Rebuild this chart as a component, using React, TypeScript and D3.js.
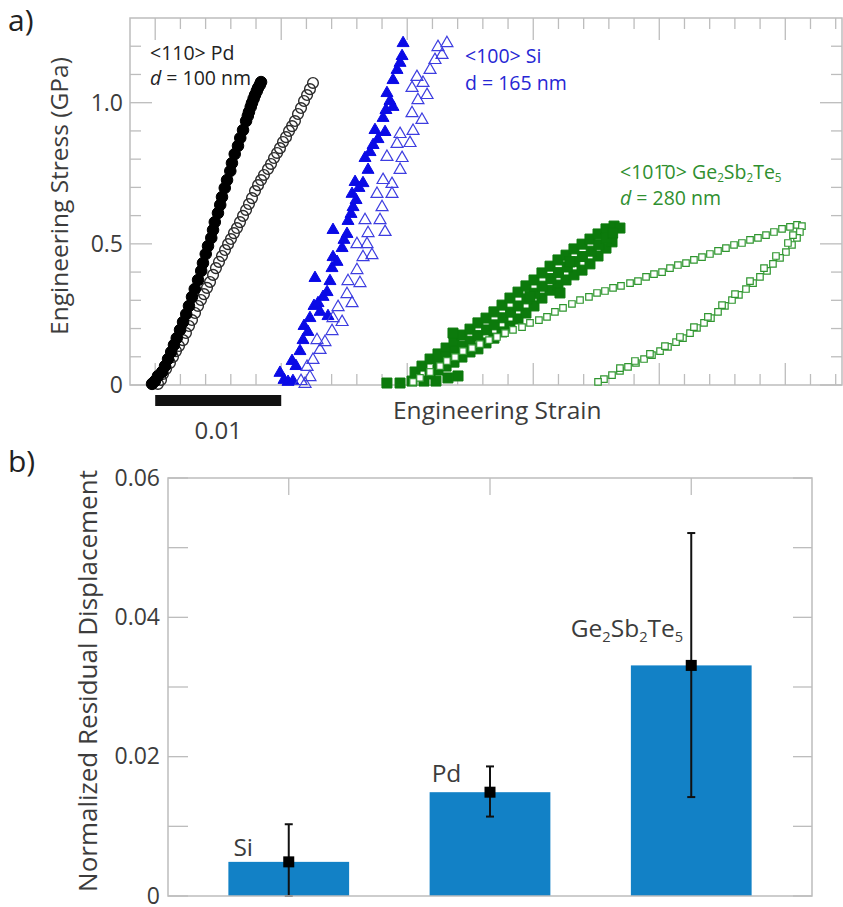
import React from "react";
import * as d3 from "d3";

// ---- panel a: engineering stress (GPa) vs strain, [strain, stress] ----
const pdFilled: [number, number][] = [
  [-0.00025, 0.004], [-0.00002, 0.014], [0.00022, 0.032], [0.00054, 0.046], [0.00078, 0.067],
  [0.00102, 0.092], [0.00127, 0.117], [0.00149, 0.142], [0.00171, 0.166], [0.00197, 0.195],
  [0.00221, 0.223], [0.00246, 0.251], [0.00268, 0.280], [0.00292, 0.312], [0.00314, 0.340],
  [0.0034, 0.372], [0.00365, 0.404], [0.00379, 0.432], [0.00401, 0.464], [0.00419, 0.492],
  [0.00445, 0.521], [0.00459, 0.549], [0.00473, 0.577], [0.00498, 0.609], [0.00516, 0.638],
  [0.0053, 0.666], [0.00552, 0.698], [0.0057, 0.726], [0.00596, 0.758], [0.00609, 0.786],
  [0.00631, 0.818], [0.00657, 0.847], [0.00675, 0.875], [0.00697, 0.903], [0.00721, 0.935],
  [0.00735, 0.953], [0.00744, 0.967], [0.00758, 0.985], [0.00768, 0.999], [0.00781, 1.014],
  [0.00792, 1.027], [0.00806, 1.041], [0.00816, 1.052], [0.0083, 1.063], [0.0084, 1.073],
];

const pdOpen: [number, number][] = [
  [0.00022, 0.004], [0.00046, 0.018], [0.00062, 0.039], [0.00086, 0.057], [0.00117, 0.078],
  [0.00141, 0.099], [0.00165, 0.12], [0.00189, 0.138], [0.00221, 0.159], [0.00244, 0.184],
  [0.00268, 0.209], [0.00292, 0.23], [0.00316, 0.255], [0.0034, 0.28], [0.00363, 0.301],
  [0.00387, 0.322], [0.00411, 0.344], [0.00435, 0.365], [0.00459, 0.39], [0.00482, 0.414],
  [0.00506, 0.436], [0.0053, 0.457], [0.00554, 0.478], [0.00578, 0.499], [0.00601, 0.517],
  [0.00625, 0.538], [0.00649, 0.556], [0.00673, 0.577], [0.00697, 0.599], [0.00721, 0.62],
  [0.00744, 0.641], [0.00768, 0.662], [0.00792, 0.687], [0.00816, 0.708], [0.0084, 0.726],
  [0.00863, 0.744], [0.00895, 0.765], [0.00919, 0.783], [0.00943, 0.804], [0.00967, 0.822],
  [0.0099, 0.839], [0.01014, 0.861], [0.01038, 0.878], [0.01062, 0.9], [0.01086, 0.917],
  [0.01109, 0.935], [0.01133, 0.96], [0.01157, 0.981], [0.01181, 1.006], [0.01205, 1.027],
  [0.01228, 1.048], [0.01252, 1.07],
];

const siFilled: [number, number][] = [
  [0.0099, 0.043], [0.01022, 0.018], [0.01054, 0.011], [0.01093, 0.014], [0.01086, 0.085],
  [0.01117, 0.067], [0.01149, 0.12], [0.01173, 0.159], [0.01181, 0.209], [0.01212, 0.188],
  [0.01228, 0.237], [0.01268, 0.379], [0.0126, 0.28], [0.01292, 0.29], [0.01308, 0.259],
  [0.01332, 0.312], [0.01364, 0.329], [0.01371, 0.244], [0.01387, 0.368], [0.01403, 0.414],
  [0.01411, 0.453], [0.01411, 0.549], [0.01443, 0.436], [0.01483, 0.485], [0.01498, 0.514],
  [0.01522, 0.535], [0.0153, 0.581], [0.01554, 0.606], [0.0157, 0.63], [0.01562, 0.677],
  [0.01594, 0.655], [0.01586, 0.719], [0.01617, 0.698], [0.01649, 0.715], [0.01665, 0.804],
  [0.01689, 0.762], [0.01705, 0.825], [0.01729, 0.85], [0.01744, 0.903], [0.01768, 0.871],
  [0.01824, 0.896], [0.01808, 0.946], [0.01831, 0.974], [0.01839, 1.034], [0.01863, 1.006],
  [0.01887, 0.985], [0.01887, 1.08], [0.01919, 1.116], [0.01943, 1.141], [0.01959, 1.165],
  [0.01967, 1.211],
];

const siOpen: [number, number][] = [
  [0.01157, 0.014], [0.01189, 0.004], [0.01205, 0.064], [0.01228, 0.028], [0.01252, 0.089],
  [0.01284, 0.159], [0.01308, 0.124], [0.01347, 0.152], [0.01403, 0.191], [0.01411, 0.237],
  [0.01451, 0.276], [0.01483, 0.223], [0.01522, 0.322], [0.0153, 0.368], [0.01562, 0.29],
  [0.01601, 0.407], [0.01625, 0.361], [0.01649, 0.453], [0.01601, 0.499], [0.01681, 0.499],
  [0.01689, 0.538], [0.01665, 0.584], [0.0172, 0.46], [0.01784, 0.584], [0.018, 0.63],
  [0.0176, 0.677], [0.01824, 0.542], [0.01879, 0.677], [0.01808, 0.726], [0.01879, 0.712],
  [0.01943, 0.762], [0.01839, 0.808], [0.01959, 0.804], [0.01919, 0.854], [0.02022, 0.857],
  [0.02046, 0.9], [0.01943, 0.889], [0.02117, 0.939], [0.02038, 0.963], [0.02085, 1.009],
  [0.02157, 1.027], [0.02038, 1.052], [0.02125, 1.07], [0.02077, 1.091], [0.02181, 1.116],
  [0.0222, 1.151], [0.02276, 1.169], [0.02315, 1.211], [0.02244, 1.197],
];

const gstFilled: [number, number][] = [
  [0.01839, 0.007], [0.01943, 0.007], [0.02038, 0.014], [0.02133, 0.014], [0.02228, 0.014],
  [0.02323, 0.025], [0.02403, 0.032],
  [0.02062, 0.046], [0.02117, 0.067], [0.02181, 0.092], [0.02244, 0.11], [0.02308, 0.131],
  [0.02371, 0.152], [0.02434, 0.177], [0.02498, 0.198], [0.02561, 0.22], [0.02625, 0.237],
  [0.02688, 0.259], [0.02752, 0.283], [0.02815, 0.308], [0.02879, 0.329], [0.02942, 0.351],
  [0.03006, 0.372], [0.03069, 0.397], [0.03133, 0.421], [0.03196, 0.443], [0.0326, 0.46],
  [0.03323, 0.482], [0.03387, 0.499], [0.0345, 0.517], [0.03514, 0.535], [0.03577, 0.553],
  [0.03641, 0.563], [0.03688, 0.556],
  [0.02181, 0.039], [0.02244, 0.053], [0.02308, 0.067], [0.02371, 0.081], [0.02434, 0.099],
  [0.02498, 0.117], [0.02561, 0.128], [0.02625, 0.149], [0.02688, 0.166], [0.02752, 0.188],
  [0.02815, 0.209], [0.02879, 0.234], [0.02942, 0.255], [0.03006, 0.28], [0.03069, 0.308],
  [0.03133, 0.336], [0.03196, 0.354], [0.0326, 0.372], [0.03323, 0.39], [0.03387, 0.407],
  [0.0345, 0.429], [0.03514, 0.457], [0.03577, 0.485], [0.03625, 0.507],
  [0.0225, 0.085], [0.0231, 0.1], [0.0238, 0.12], [0.0244, 0.138], [0.025, 0.155],
  [0.0256, 0.175], [0.0263, 0.195], [0.0269, 0.213], [0.0276, 0.238], [0.0282, 0.258],
  [0.0288, 0.28], [0.0295, 0.305], [0.0301, 0.325], [0.0307, 0.35], [0.0314, 0.377],
  [0.032, 0.398], [0.0327, 0.418], [0.0333, 0.437], [0.0339, 0.455], [0.0346, 0.474],
  [0.0352, 0.497], [0.0358, 0.52], [0.0363, 0.538],
  [0.02363, 0.184], [0.03212, 0.326], [0.02974, 0.315], [0.03291, 0.436],
];

const gstOpenLoad: [number, number][] = [
  [0.02046, 0.011], [0.02101, 0.025], [0.02181, 0.046], [0.0226, 0.067], [0.02315, 0.085],
  [0.02379, 0.099], [0.02442, 0.12], [0.02514, 0.131], [0.02577, 0.145], [0.02649, 0.159],
  [0.02712, 0.17], [0.02776, 0.184], [0.02839, 0.195], [0.02911, 0.205], [0.02974, 0.22],
  [0.03045, 0.23], [0.03109, 0.241], [0.03172, 0.259], [0.03236, 0.273], [0.03307, 0.287],
  [0.03371, 0.301], [0.03442, 0.312], [0.03506, 0.326], [0.03569, 0.333], [0.03633, 0.344],
  [0.03696, 0.351], [0.03768, 0.361], [0.03831, 0.368], [0.03895, 0.383], [0.03958, 0.393],
  [0.04022, 0.4], [0.04085, 0.414], [0.04148, 0.425], [0.04212, 0.432], [0.04275, 0.443],
  [0.04339, 0.453], [0.04402, 0.464], [0.04466, 0.475], [0.04529, 0.485], [0.04593, 0.496],
  [0.04656, 0.503], [0.0472, 0.514], [0.04783, 0.521], [0.04847, 0.531], [0.0491, 0.542],
  [0.04974, 0.553], [0.05037, 0.56], [0.05093, 0.567], [0.05132, 0.563],
];

const gstOpenUnload: [number, number][] = [
  [0.05116, 0.542], [0.05093, 0.521], [0.05053, 0.496], [0.05005, 0.471], [0.04958, 0.45],
  [0.04902, 0.429], [0.04855, 0.404], [0.04799, 0.383], [0.04744, 0.361], [0.04688, 0.34],
  [0.04632, 0.319], [0.04577, 0.301], [0.04521, 0.28], [0.04466, 0.259], [0.0441, 0.237],
  [0.04355, 0.22], [0.04299, 0.202], [0.04244, 0.184], [0.04188, 0.166], [0.04133, 0.152],
  [0.04069, 0.135], [0.04006, 0.12], [0.03942, 0.106], [0.03879, 0.092], [0.03815, 0.078],
  [0.03752, 0.064], [0.03688, 0.05], [0.03625, 0.035], [0.03561, 0.021], [0.03514, 0.011],
  [0.05061, 0.531], [0.05021, 0.503], [0.04926, 0.457], [0.04831, 0.414], [0.0472, 0.368],
  [0.04601, 0.322], [0.04498, 0.283], [0.04386, 0.241], [0.04275, 0.205], [0.04164, 0.17],
  [0.04045, 0.138], [0.03926, 0.11], [0.03807, 0.085], [0.03688, 0.06],
];

const stressTickLabels = ["0", "0.5", "1.0"];

// ---- panel b: normalized residual displacement ----
const materials = ["Si", "Pd", "Ge2Sb2Te5"];
const residualMean = [0.0049, 0.0149, 0.0331];
const residualLow = [0, 0.0114, 0.0142];
const residualHigh = [0.0103, 0.0186, 0.0521];
const residualTickLabels = ["0", "0.02", "0.04", "0.06"];

const FONT = "'Open Sans', sans-serif";
const AXIS = "#bdbdbd";
const INK = "#3c3c3c";

// splits "Ge2Sb2Te5" into element text and lowered digits
const Chem = ({ formula, size, sub }: { formula: string; size: number; sub: number }) => {
  const parts = formula.match(/[A-Za-z]+|\d+/g) || [];
  let down = false;
  return (
    <>
      {parts.map((p, i) => {
        const isNum = /\d/.test(p);
        const dy = isNum && !down ? sub : !isNum && down ? -sub : 0;
        down = isNum;
        return (
          <tspan key={i} dy={dy} fontSize={isNum ? size * 0.6 : size}>
            {p}
          </tspan>
        );
      })}
    </>
  );
};

export default function App() {
  const W = 843;
  const H = 907;

  // panel a
  const x = d3.scaleLinear().domain([-0.002, 0.0545]).range([130, 842]);
  const y = d3.scaleLinear().domain([0, 1.3]).range([385, 18]);
  const xTicks = d3.range(0, 28).map((i) => i * 0.002);
  const yTicks = d3.range(0, 13).map((i) => i * 0.1);

  const circle = d3.symbol().type(d3.symbolCircle).size(105)()!;
  const circleOpen = d3.symbol().type(d3.symbolCircle).size(90)()!;
  const tri = d3.symbol().type(d3.symbolTriangle).size(62)()!;
  const sqFill = d3.symbol().type(d3.symbolSquare).size(100)()!;
  const sqOpen = d3.symbol().type(d3.symbolSquare).size(42)()!;

  // panel b
  const xb = d3.scaleLinear().domain([0.4, 3.6]).range([168, 812]);
  const yb = d3.scaleLinear().domain([0, 0.06]).range([896, 478]);
  const yTicksB = d3.range(0, 7).map((i) => i * 0.01);
  const barW = xb(0.6) - xb(0);

  const marks = (
    data: [number, number][],
    path: string,
    fill: string,
    stroke: string,
    sw: number
  ) =>
    data.map(([s, v], i) => (
      <path
        key={i}
        d={path}
        transform={`translate(${x(s)},${y(v)})`}
        fill={fill}
        stroke={stroke}
        strokeWidth={sw}
      />
    ));

  return (
    <svg
      width={W}
      height={H}
      style={{ position: "absolute", left: 0, top: 0, background: "#fff" }}
      fontFamily={FONT}
    >
      <rect width={W} height={H} fill="#fff" />

      {/* ---------- a) ---------- */}
      <text x={8} y={31} fontSize={30} fill="#222">a)</text>

      <rect x={130} y={18} width={712} height={367} fill="none" stroke={AXIS} strokeWidth={1.5} />
      {xTicks.map((t, i) => {
        const len = i % 5 === 0 ? 22 : 11;
        return (
          <g key={i} stroke={AXIS} strokeWidth={1.3}>
            <line x1={x(t)} x2={x(t)} y1={18} y2={18 + len} />
            <line x1={x(t)} x2={x(t)} y1={385} y2={385 - len} />
          </g>
        );
      })}
      {yTicks.map((t, i) => {
        const len = i % 5 === 0 ? 22 : 11;
        return (
          <g key={i} stroke={AXIS} strokeWidth={1.3}>
            <line x1={130} x2={130 + len} y1={y(t)} y2={y(t)} />
            <line x1={842} x2={842 - len} y1={y(t)} y2={y(t)} />
          </g>
        );
      })}
      {stressTickLabels.map((l) => (
        <text key={l} x={123} y={y(+l)} dy="0.36em" textAnchor="end" fontSize={23} fill={INK}>
          {l}
        </text>
      ))}
      <text
        transform={`translate(68,196) rotate(-90)`}
        textAnchor="middle"
        fontSize={24.5}
        fill={INK}
      >
        Engineering Stress (GPa)
      </text>
      <text x={393} y={419} fontSize={24.5} fill={INK}>Engineering Strain</text>

      {/* scale bar */}
      <rect x={x(0)} y={395} width={x(0.01) - x(0)} height={11} fill="#111" />
      <text x={(x(0) + x(0.01)) / 2} y={439} textAnchor="middle" fontSize={24} fill={INK}>0.01</text>

      {/* data */}
      <g>{marks(pdOpen, circleOpen, "none", "#2a2a2a", 1.4)}</g>
      <g>{marks(pdFilled, circle, "#000", "#000", 1)}</g>
      <g>{marks(siFilled, tri, "#0a0ae6", "#0a0ae6", 1)}</g>
      <g>{marks(siOpen, tri, "none", "#3d3de0", 1.2)}</g>
      <g>{marks(gstFilled, sqFill, "#0c7a0c", "#0c7a0c", 1)}</g>
      <g>{marks(gstOpenLoad, sqOpen, "#fff", "#2f962f", 1.2)}</g>
      <g>{marks(gstOpenUnload, sqOpen, "#fff", "#2f962f", 1.2)}</g>

      {/* annotations */}
      <text x={150} y={60} fontSize={19.5} fill="#222">&lt;110&gt; Pd</text>
      <text x={150} y={85} fontSize={19.5} fill="#222">
        <tspan fontStyle="italic" fontSize={19.5}>d</tspan> = 100 nm
      </text>
      <text x={465} y={63} fontSize={19.5} fill="#2626d4">&lt;100&gt; Si</text>
      <text x={465} y={90} fontSize={19.5} fill="#2626d4">d = 165 nm</text>
      <text x={620} y={179} fontSize={19.5} fill="#2f8f2f">
        &lt;101{"\u0304"}0&gt; <Chem formula="Ge2Sb2Te5" size={19.5} sub={3} />
      </text>
      <text x={620} y={205} fontSize={19.5} fill="#2f8f2f">
        <tspan fontStyle="italic" fontSize={19.5}>d</tspan> = 280 nm
      </text>

      {/* ---------- b) ---------- */}
      <text x={8} y={472} fontSize={30} fill="#222">b)</text>

      {materials.map((m, i) => {
        const cx = xb(i + 1);
        return (
          <g key={m}>
            <rect
              x={cx - barW / 2}
              y={yb(residualMean[i])}
              width={barW}
              height={yb(0) - yb(residualMean[i])}
              fill="#1281c6"
            />
            <line x1={cx} x2={cx} y1={yb(residualLow[i])} y2={yb(residualHigh[i])} stroke="#111" strokeWidth={2} />
            <line x1={cx - 4} x2={cx + 4} y1={yb(residualHigh[i])} y2={yb(residualHigh[i])} stroke="#111" strokeWidth={2} />
            <line x1={cx - 4} x2={cx + 4} y1={yb(residualLow[i])} y2={yb(residualLow[i])} stroke="#111" strokeWidth={2} />
            <rect x={cx - 5.5} y={yb(residualMean[i]) - 5.5} width={11} height={11} fill="#000" />
          </g>
        );
      })}
      <text x={xb(1) - barW / 2 + 5} y={yb(residualMean[0]) - 6} fontSize={24.5} fill={INK}>Si</text>
      <text x={xb(2) - barW / 2 + 2} y={yb(residualMean[1]) - 10} fontSize={24.5} fill={INK}>Pd</text>
      <text x={xb(3) - 8} y={yb(residualMean[2]) - 28} fontSize={24.5} textAnchor="end" fill={INK}>
        <Chem formula={materials[2]} size={24.5} sub={5} />
      </text>

      <rect x={168} y={478} width={644} height={418} fill="none" stroke={AXIS} strokeWidth={1.5} />
      {yTicksB.map((t, i) => (
        <g key={i} stroke={AXIS} strokeWidth={1.3}>
          <line x1={168} x2={188} y1={yb(t)} y2={yb(t)} />
          <line x1={812} x2={793} y1={yb(t)} y2={yb(t)} />
        </g>
      ))}
      {materials.map((m, i) => (
        <line key={m} x1={xb(i + 1)} x2={xb(i + 1)} y1={478} y2={495} stroke={AXIS} strokeWidth={1.3} />
      ))}
      {residualTickLabels.map((l) => (
        <text key={l} x={160} y={yb(+l)} dy="0.33em" textAnchor="end" fontSize={23} fill={INK}>
          {l}
        </text>
      ))}
      <text
        transform={`translate(97,681) rotate(-90)`}
        textAnchor="middle"
        fontSize={26}
        fill={INK}
      >
        Normalized Residual Displacement
      </text>
    </svg>
  );
}
